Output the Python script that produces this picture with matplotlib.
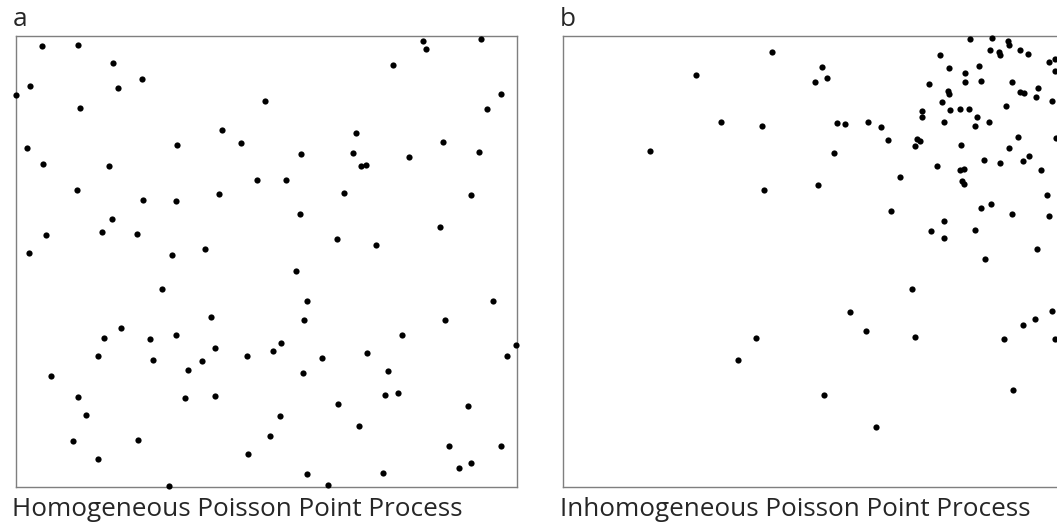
"""Homogeneous vs inhomogeneous Poisson point process realisations."""

import matplotlib

matplotlib.use("Agg")
import matplotlib.pyplot as plt

# Point locations on the unit square, panel a (homogeneous intensity)
homog_x = [
    0.052, 0.124, 0.194, 0.028, 0.253, 0.204, 0.000, 0.498, 0.129, 0.412,
    0.450, 0.323, 0.022, 0.055, 0.186, 0.481, 0.122, 0.406, 0.254, 0.321,
    0.192, 0.172, 0.061, 0.242, 0.026, 0.312, 0.377, 0.812, 0.819, 0.929,
    0.753, 0.969, 0.941, 0.678, 0.852, 0.570, 0.673, 0.785, 0.924, 0.689,
    0.699, 0.539, 0.655, 0.909, 0.567, 0.847, 0.642, 0.719, 0.293, 0.390,
    0.210, 0.176, 0.269, 0.320, 0.397, 0.164, 0.274, 0.371, 0.343, 0.461,
    0.071, 0.125, 0.338, 0.397, 0.141, 0.114, 0.244, 0.165, 0.464, 0.507,
    0.307, 0.560, 0.581, 0.575, 0.529, 0.513, 0.612, 0.573, 0.700, 0.771,
    0.857, 0.952, 0.999, 0.981, 0.743, 0.737, 0.763, 0.643, 0.903, 0.527,
    0.684, 0.865, 0.968, 0.581, 0.733, 0.885, 0.909, 0.623,
]
homog_y = [
    0.977, 0.980, 0.939, 0.889, 0.904, 0.884, 0.867, 0.855, 0.840, 0.790,
    0.762, 0.757, 0.750, 0.714, 0.710, 0.680, 0.657, 0.649, 0.635, 0.634,
    0.594, 0.565, 0.558, 0.559, 0.518, 0.513, 0.527, 0.988, 0.970, 0.992,
    0.935, 0.870, 0.838, 0.784, 0.764, 0.738, 0.739, 0.731, 0.742, 0.710,
    0.713, 0.679, 0.651, 0.646, 0.604, 0.575, 0.549, 0.535, 0.439, 0.376,
    0.352, 0.330, 0.326, 0.337, 0.308, 0.290, 0.281, 0.278, 0.258, 0.290,
    0.246, 0.198, 0.196, 0.200, 0.159, 0.100, 0.103, 0.062, 0.071, 0.112,
    0.001, 0.477, 0.411, 0.369, 0.319, 0.301, 0.285, 0.252, 0.295, 0.336,
    0.369, 0.411, 0.314, 0.289, 0.255, 0.203, 0.208, 0.183, 0.178, 0.157,
    0.134, 0.090, 0.090, 0.028, 0.031, 0.040, 0.051, 0.004,
]

# Panel b (intensity rising towards the upper right corner)
inhom_x = [
    0.417, 0.266, 0.317, 0.398, 0.175, 0.402, 0.518, 0.503, 0.527, 0.813,
    0.857, 0.889, 0.890, 0.852, 0.870, 0.872, 0.912, 0.928, 0.752, 0.970,
    0.982, 0.982, 0.771, 0.830, 0.802, 0.802, 0.835, 0.896, 0.731, 0.769,
    0.771, 0.912, 0.921, 0.948, 0.944, 0.977, 0.757, 0.885, 0.717, 0.717,
    0.773, 0.793, 0.811, 0.827, 0.761, 0.823, 0.850, 0.548, 0.563, 0.609,
    0.636, 0.650, 0.706, 0.713, 0.703, 0.794, 0.909, 0.891, 0.985, 0.541,
    0.840, 0.872, 0.919, 0.931, 0.747, 0.793, 0.801, 0.955, 0.673, 0.510,
    0.796, 0.801, 0.967, 0.656, 0.834, 0.855, 0.897, 0.970, 0.761, 0.735,
    0.823, 0.761, 0.946, 0.843, 0.697, 0.573, 0.605, 0.703, 0.385, 0.350,
    0.521, 0.626, 0.880, 0.918, 0.942, 0.977, 0.983, 0.898,
]
inhom_y = [
    0.964, 0.913, 0.808, 0.799, 0.744, 0.657, 0.931, 0.898, 0.905, 0.992,
    0.995, 0.988, 0.980, 0.968, 0.964, 0.956, 0.968, 0.958, 0.957, 0.942,
    0.948, 0.921, 0.927, 0.932, 0.916, 0.898, 0.900, 0.898, 0.892, 0.877,
    0.870, 0.875, 0.873, 0.884, 0.864, 0.855, 0.853, 0.844, 0.833, 0.820,
    0.834, 0.836, 0.836, 0.819, 0.809, 0.799, 0.809, 0.806, 0.803, 0.809,
    0.797, 0.769, 0.771, 0.765, 0.755, 0.757, 0.774, 0.750, 0.772, 0.739,
    0.725, 0.718, 0.722, 0.733, 0.710, 0.702, 0.705, 0.701, 0.687, 0.668,
    0.677, 0.671, 0.646, 0.610, 0.618, 0.626, 0.604, 0.600, 0.589, 0.567,
    0.569, 0.550, 0.527, 0.505, 0.439, 0.388, 0.344, 0.332, 0.329, 0.280,
    0.202, 0.132, 0.326, 0.359, 0.371, 0.389, 0.326, 0.214,
]

panel_letters = ["a", "b"]
captions = ["Homogeneous Poisson Point Process", "Inhomogeneous Poisson Point Process"]

W, H = 1057, 523
FRAME = "#7f7f7f"
TEXT = "#262626"

fig = plt.figure(figsize=(W / 100, H / 100), dpi=100)
plt.rcParams["font.family"] = ["Open Sans", "DejaVu Sans"]

panels = [(homog_x, homog_y), (inhom_x, inhom_y)]
lefts = [15.5, 562.5]
for (xs, ys), left, letter, caption in zip(panels, lefts, panel_letters, captions):
    ax = fig.add_axes([left / W, (H - 486.5) / H, 501.5 / W, 451 / H])
    ax.scatter(xs, ys, s=20, c="black", linewidths=0, clip_on=False, zorder=3)
    ax.set_xlim(0, 1)
    ax.set_ylim(0, 1)
    ax.set_xticks([])
    ax.set_yticks([])
    for spine in ax.spines.values():
        spine.set_color(FRAME)
        spine.set_linewidth(1.0)

    fig.text((left - 3) / W, (H - 26.5) / H, letter, fontsize=18.8,
             color=TEXT, ha="left", va="baseline")
    fig.text((left - 3) / W, (H - 516) / H, caption, fontsize=18.8,
             color=TEXT, ha="left", va="baseline")

fig.savefig("out.png", dpi=100)
